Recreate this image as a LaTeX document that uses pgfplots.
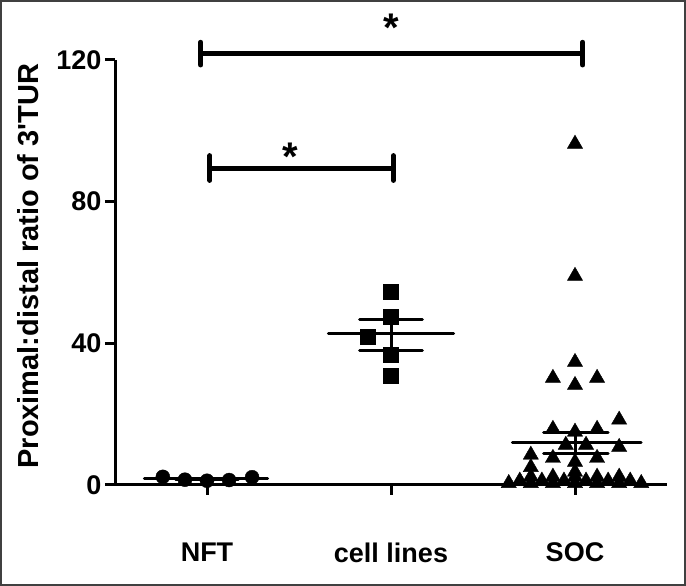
\documentclass[border=0pt]{standalone}
\usepackage{pgfplots}
\pgfplotsset{compat=1.18}
\usepackage{fontspec}
\setmainfont{Liberation Sans}[Ligatures=TeXOff]

\pgfplotstableread{
x y
-0.24 2.3
-0.12 1.5
0 1.2
0.12 1.4
0.245 2.2
}\nft

\pgfplotstableread{
x y
1 54.5
1 47.5
0.875 41.8
1 36.7
1 30.8
}\cells

\pgfplotstableread{
x y
2 96.3
2 59.0
2 34.7
1.88 30.2
2.12 30.2
2 28.2
2.24 18.4
1.88 15.8
2.12 15.8
2 15.0
1.95 11.3
2.06 11.3
2.24 10.7
1.76 8.5
1.88 7.6
2.12 7.6
2 6.5
1.76 5.0
2 3.7
1.76 2.3
1.88 2.3
2 2.3
2.12 2.3
2.24 2.3
1.70 1.2
1.82 1.2
1.94 1.2
2.06 1.2
2.18 1.2
2.30 1.2
1.64 0.5
1.76 0.5
1.88 0.5
2 0.5
2.12 0.5
2.24 0.5
2.36 0.5
}\soc

\begin{document}
\begin{tikzpicture}[x=1pt,y=1pt]
\useasboundingbox (0,0) rectangle (686,586);
\draw[line width=2pt, color=black!75] (1,1) rectangle (685,585);
\begin{axis}[
  at={(115pt,101pt)}, anchor=south west,
  scale only axis, width=552pt, height=425pt,
  xmin=-0.5, xmax=2.5, ymin=0, ymax=120,
  axis x line=bottom, axis y line=left,
  axis line style={line width=3pt,-},
  clip=false,
  xtick={0,1,2}, xticklabels={NFT,cell lines,SOC},
  ytick={0,40,80,120},
  tick align=outside, major tick length=10pt,
  every tick/.style={line width=3pt, black},
  tick label style={font=\bfseries\fontsize{27}{32}\selectfont},
  /pgf/number format/assume math mode=true,
  xticklabel style={yshift=-44pt},
  ylabel={Proximal:distal ratio of 3'TUR},
  ylabel style={font=\bfseries\fontsize{29}{32}\selectfont, at={(axis description cs:-0.158,0.515)}, anchor=center},
  meanline/.style={black, line width=3pt, line cap=round, no marks, forget plot},
]
\addplot[only marks, mark=*, mark size=7pt, black] table {\nft};
\addplot[only marks, mark=square*, mark size=7.5pt, black] table {\cells};
\addplot[only marks, mark=triangle*, mark size=8.8pt, black] table {\soc};

% NFT mean and SEM
\addplot[meanline] coordinates {(-0.34,1.7) (0.33,1.7)};
\addplot[meanline] coordinates {(-0.17,1.95) (0.17,1.95)};
\addplot[meanline] coordinates {(-0.17,1.45) (0.17,1.45)};
% cell lines
\addplot[meanline] coordinates {(0.66,42.7) (1.34,42.7)};
\addplot[meanline] coordinates {(0.83,46.6) (1.17,46.6)};
\addplot[meanline] coordinates {(0.83,38.1) (1.17,38.1)};
\addplot[meanline] coordinates {(1,38.1) (1,46.6)};
% SOC
\addplot[meanline] coordinates {(1.66,11.9) (2.36,11.9)};
\addplot[meanline] coordinates {(1.83,14.7) (2.18,14.7)};
\addplot[meanline] coordinates {(1.83,9.0) (2.18,9.0)};
\addplot[meanline] coordinates {(2,9.0) (2,14.7)};

% significance brackets
\addplot[black, line width=5pt, no marks] coordinates {(-0.034,121.8) (2.042,121.8)};
\addplot[black, line width=5pt, line cap=round, no marks] coordinates {(-0.034,118.6) (-0.034,125.0)};
\addplot[black, line width=5pt, line cap=round, no marks] coordinates {(2.042,118.6) (2.042,125.0)};
\addplot[black, line width=5pt, no marks] coordinates {(0.016,89.4) (1.013,89.4)};
\addplot[black, line width=5pt, line cap=round, no marks] coordinates {(0.016,86.0) (0.016,93.0)};
\addplot[black, line width=5pt, line cap=round, no marks] coordinates {(1.013,86.0) (1.013,93.0)};
\node[font=\bfseries\fontsize{40}{40}\selectfont, anchor=center] at (axis cs:1.0,129.1) {*};
\node[font=\bfseries\fontsize{40}{40}\selectfont, anchor=center] at (axis cs:0.45,92.8) {*};
\end{axis}
\end{tikzpicture}
\end{document}
